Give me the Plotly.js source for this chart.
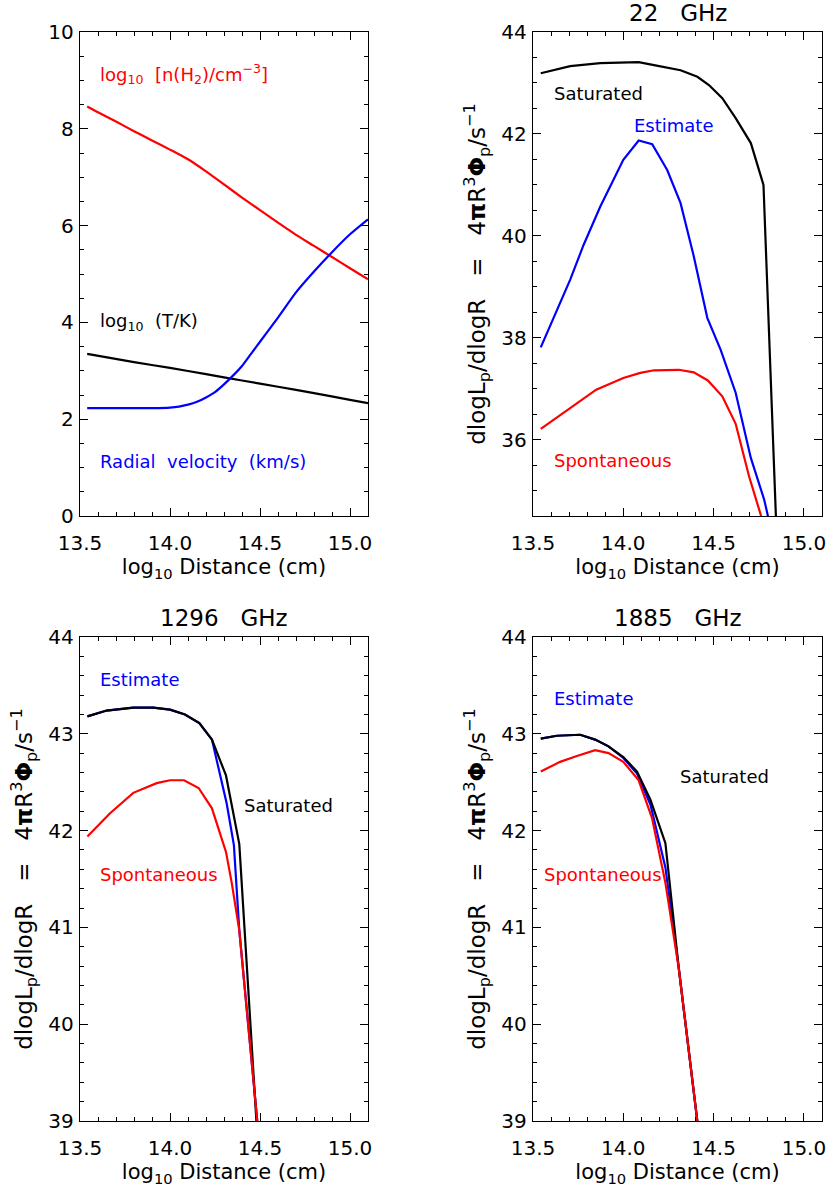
<!DOCTYPE html>
<html><head><meta charset="utf-8">
<script src="https://cdn.plot.ly/plotly-3.0.1.min.js"></script>
<style>html,body{margin:0;padding:0;background:#fff}</style>
</head><body><div id="chart" style="width:829px;height:1188px"></div>
<script>
// ---------- Panel 1: physical conditions ----------
const densX = [13.54,13.6,13.7,13.8,13.9,14.0,14.1,14.2,14.3,14.4,14.5,14.6,14.7,14.8,14.9,15.0,15.1];
const densY = [8.46,8.34,8.15,7.95,7.76,7.57,7.37,7.12,6.85,6.58,6.32,6.06,5.81,5.58,5.35,5.12,4.89];
const tempX = [13.54,13.8,14.0,14.2,14.4,14.6,14.8,15.0,15.1];
const tempY = [3.35,3.18,3.06,2.93,2.80,2.67,2.54,2.40,2.33];
const velX = [13.54,13.7,13.9,14.0,14.05,14.1,14.15,14.2,14.25,14.3,14.35,14.4,14.45,14.5,14.6,14.7,14.8,14.9,15.0,15.1];
const velY = [2.23,2.23,2.23,2.24,2.26,2.30,2.36,2.45,2.56,2.72,2.90,3.10,3.35,3.60,4.10,4.62,5.05,5.45,5.82,6.13];

// ---------- Panel 2: 22 GHz ----------
const sat22X = [13.543,13.706,13.872,14.0,14.085,14.17,14.317,14.41,14.474,14.548,14.622,14.706,14.776,14.85];
const sat22Y = [43.19,43.33,43.39,43.41,43.41,43.35,43.25,43.12,42.96,42.70,42.31,41.82,41.00,34.0];
const est22X = [13.543,13.62,13.706,13.78,13.872,14.0,14.085,14.16,14.243,14.317,14.39,14.465,14.539,14.622,14.706,14.78,14.82];
const est22Y = [37.81,38.45,39.14,39.82,40.57,41.49,41.87,41.80,41.29,40.64,39.60,38.39,37.76,36.92,35.64,34.82,34.2];
const spo22X = [13.543,13.706,13.85,14.0,14.094,14.17,14.243,14.307,14.39,14.468,14.548,14.622,14.696,14.765,14.78];
const spo22Y = [36.21,36.62,36.98,37.21,37.31,37.36,37.37,37.37,37.32,37.16,36.85,36.31,35.28,34.51,34.3];

// ---------- Panel 3: 1296 GHz ----------
const sat1296X = [13.541,13.648,13.796,13.907,14.0,14.083,14.163,14.233,14.311,14.385,14.50];
const sat1296Y = [43.18,43.24,43.27,43.27,43.25,43.20,43.11,42.94,42.57,41.86,38.4];
const est1296X = [13.541,13.648,13.796,13.907,14.0,14.083,14.163,14.233,14.315,14.355,14.385,14.50];
const est1296Y = [43.18,43.24,43.27,43.27,43.25,43.20,43.11,42.94,42.28,41.85,40.97,38.7];
const spo1296X = [13.541,13.667,13.796,13.926,14.0,14.078,14.159,14.233,14.311,14.343,14.385,14.50];
const spo1296Y = [41.94,42.18,42.39,42.49,42.52,42.52,42.44,42.23,41.78,41.46,40.97,38.7];

// ---------- Panel 4: 1885 GHz ----------
const sat1885X = [13.543,13.632,13.761,13.844,13.918,14.0,14.076,14.15,14.233,14.307,14.409,14.45];
const sat1885Y = [42.95,42.98,42.99,42.94,42.87,42.76,42.61,42.32,41.87,40.58,39.01,38.4];
const est1885X = [13.543,13.632,13.761,13.844,13.918,14.0,14.076,14.15,14.233,14.307,14.409,14.45];
const est1885Y = [42.95,42.98,42.99,42.94,42.87,42.75,42.59,42.27,41.62,40.58,39.01,38.4];
const spo1885X = [13.543,13.65,13.743,13.844,13.918,14.0,14.085,14.159,14.233,14.307,14.409,14.45];
const spo1885Y = [42.61,42.71,42.77,42.83,42.80,42.71,42.52,42.13,41.46,40.58,39.01,38.4];

// ---------- Text ----------
const panelTitles = ["", "22&nbsp;&nbsp;&nbsp;GHz", "1296&nbsp;&nbsp;&nbsp;GHz", "1885&nbsp;&nbsp;&nbsp;GHz"];
const xTitle = "log<sub>10</sub> Distance (cm)";
const yTitle = "dlogL<sub>p</sub>/dlogR&nbsp;&nbsp;&nbsp;=&nbsp;&nbsp;&nbsp;4<b>π</b>R<sup>3</sup><b>Φ</b><sub>p</sub>/s<sup>−1</sup>";

const RED = "#ff0000", BLUE = "#0000ff", BLACK = "#000000";
const FONT = "DejaVu Sans";

function line(x, y, color, xa, ya, smooth) {
  return {x: x, y: y, xaxis: xa, yaxis: ya, type: "scatter", mode: "lines",
          line: smooth ? {color: color, width: 2.2, shape: "spline", smoothing: 0.6}
                       : {color: color, width: 2.2},
          showlegend: false, hoverinfo: "skip"};
}

const data = [
  line(densX, densY, RED, "x", "y", true),
  line(tempX, tempY, BLACK, "x", "y", true),
  line(velX, velY, BLUE, "x", "y", true),
  line(est22X, est22Y, BLUE, "x2", "y2"),
  line(sat22X, sat22Y, BLACK, "x2", "y2"),
  line(spo22X, spo22Y, RED, "x2", "y2"),
  line(est1296X, est1296Y, BLUE, "x3", "y3"),
  line(sat1296X, sat1296Y, BLACK, "x3", "y3"),
  line(spo1296X, spo1296Y, RED, "x3", "y3"),
  line(est1885X, est1885Y, BLUE, "x4", "y4"),
  line(sat1885X, sat1885Y, BLACK, "x4", "y4"),
  line(spo1885X, spo1885Y, RED, "x4", "y4")
];

const W = 829, H = 1188;
const colX = [[80, 368], [533, 822]];
const rowY = [[32, 516], [637, 1121]];
function dx(c) { return [colX[c][0] / W, colX[c][1] / W]; }
function dy(r) { return [1 - rowY[r][1] / H, 1 - rowY[r][0] / H]; }

function xAxis(c, r, anchor) {
  return {
    domain: dx(c), anchor: anchor, range: [13.5, 15.1],
    tick0: 13.5, dtick: 0.5, tickformat: ".1f",
    ticks: "inside", ticklen: 8, tickwidth: 1, tickcolor: "#000",
    ticklabelstandoff: 9,
    minor: {dtick: 0.1, tick0: 13.5, ticks: "inside", ticklen: 4, tickwidth: 1, tickcolor: "#000"},
    showline: true, linecolor: "#000", linewidth: 1.2, mirror: "allticks",
    showgrid: false, zeroline: false,
    tickfont: {family: FONT, size: 20, color: "#000"},
    title: {text: xTitle, font: {family: FONT, size: 21, color: "#000"}, standoff: 5}
  };
}
function yAxis(c, r, anchor, range, dtick, minor, withTitle) {
  const ax = {
    domain: dy(r), anchor: anchor, range: range,
    tick0: 0, dtick: dtick,
    ticks: "inside", ticklen: 8, tickwidth: 1, tickcolor: "#000",
    ticklabelstandoff: 1,
    minor: {dtick: minor, ticks: "inside", ticklen: 4, tickwidth: 1, tickcolor: "#000"},
    showline: true, linecolor: "#000", linewidth: 1.2, mirror: "allticks",
    showgrid: false, zeroline: false,
    tickfont: {family: FONT, size: 20, color: "#000"}
  };
  if (withTitle) ax.title = {text: yTitle, font: {family: FONT, size: 23, color: "#000"}, standoff: 9};
  return ax;
}

function ann(text, x, y, color, xref, yref) {
  return {text: text, x: x, y: y, xref: xref, yref: yref, xanchor: "left", yanchor: "middle",
          showarrow: false, font: {family: FONT, size: 18, color: color}};
}
function title(text, c, r) {
  const xc = (colX[c][0] + colX[c][1]) / 2 / W;
  const yc = 1 - (rowY[r][0] - 19) / H;
  return {text: text, x: xc, y: yc, xref: "paper", yref: "paper", xanchor: "center", yanchor: "middle",
          showarrow: false, font: {family: FONT, size: 23, color: "#000"}};
}

const layout = {
  width: W, height: H,
  margin: {l: 0, r: 0, t: 0, b: 0},
  paper_bgcolor: "#fff", plot_bgcolor: "#fff",
  showlegend: false,
  xaxis: xAxis(0, 0, "y"),
  yaxis: yAxis(0, 0, "x", [0, 10], 2, 0.5, false),
  xaxis2: xAxis(1, 0, "y2"),
  yaxis2: yAxis(1, 0, "x2", [34.5, 44], 2, 0.5, true),
  xaxis3: xAxis(0, 1, "y3"),
  yaxis3: yAxis(0, 1, "x3", [39, 44], 1, 0.2, true),
  xaxis4: xAxis(1, 1, "y4"),
  yaxis4: yAxis(1, 1, "x4", [39, 44], 1, 0.2, true),
  annotations: [
    ann("log<sub>10</sub>&nbsp;&nbsp;[n(H<sub>2</sub>)/cm<sup>−3</sup>]", 13.6, 9.13, RED, "x", "y"),
    ann("log<sub>10</sub>&nbsp;&nbsp;(T/K)", 13.6, 4.0, BLACK, "x", "y"),
    ann("Radial&nbsp;&nbsp;velocity&nbsp;&nbsp;(km/s)", 13.6, 1.12, BLUE, "x", "y"),
    ann("Saturated", 13.606, 42.80, BLACK, "x2", "y2"),
    ann("Estimate", 14.05, 42.16, BLUE, "x2", "y2"),
    ann("Spontaneous", 13.606, 35.59, RED, "x2", "y2"),
    ann("Estimate", 13.6, 43.56, BLUE, "x3", "y3"),
    ann("Saturated", 14.4, 42.26, BLACK, "x3", "y3"),
    ann("Spontaneous", 13.6, 41.55, RED, "x3", "y3"),
    ann("Estimate", 13.604, 43.36, BLUE, "x4", "y4"),
    ann("Saturated", 14.304, 42.56, BLACK, "x4", "y4"),
    ann("Spontaneous", 13.552, 41.55, RED, "x4", "y4"),
    title(panelTitles[1], 1, 0),
    title(panelTitles[2], 0, 1),
    title(panelTitles[3], 1, 1)
  ]
};

Plotly.newPlot("chart", data, layout, {staticPlot: true, displayModeBar: false});
</script>
</body></html>
